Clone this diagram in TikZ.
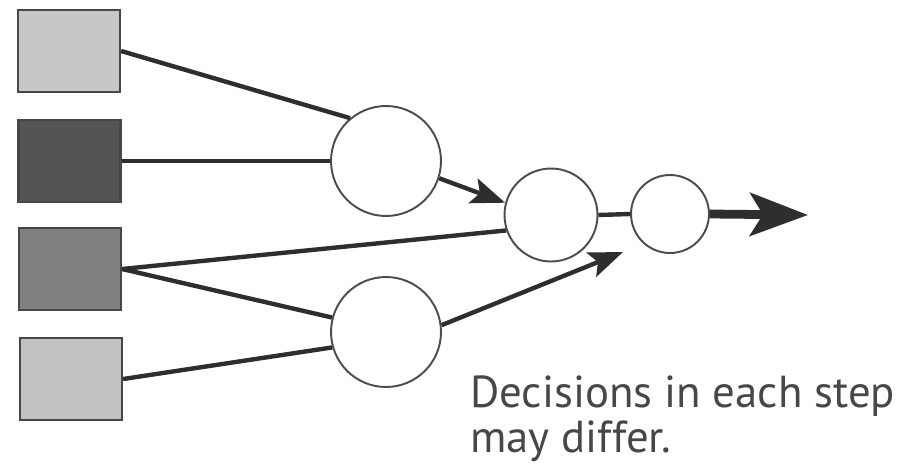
\documentclass[tikz,border=0pt]{standalone}
\usepackage{fontspec}
\setmainfont{PT Sans}
\usetikzlibrary{arrows.meta}

\tikzset{
  input/.style={draw=black!72, line width=1.3pt, minimum width=2.04cm, minimum height=1.64cm, inner sep=0pt},
  stage/.style={circle, draw=black!70, line width=1.1pt, fill=white, inner sep=0pt},
  link/.style={draw=black!82, line width=2.5pt},
  flow/.style={link, -{Stealth[length=0.68cm, width=0.52cm, inset=0.14cm]}},
  outflow/.style={draw=black!82, line width=5pt, -{Stealth[length=1.16cm, width=0.86cm, inset=0.26cm]}},
}

\begin{document}
\begin{tikzpicture}[x=0.02cm, y=-0.02cm]
    \useasboundingbox (0,0) rectangle (918,470);

    % Draw the inputs
    \node[input, fill=black!22] (in1) at (69,51) {};
    \node[input, fill=black!67] (in2) at (69.5,161) {};
    \node[input, fill=black!50] (in3) at (70,269) {};
    \node[input, fill=black!24] (in4) at (71,379) {};

    % Draw the steps
    \node[stage, minimum size=2.2cm] (upper) at (386,161) {};
    \node[stage, minimum size=2.2cm] (lower) at (386,332) {};
    \node[stage, minimum size=1.86cm] (middle) at (551,215) {};
    \node[stage, minimum size=1.56cm] (final) at (670,214) {};
    \coordinate (loose) at (623,252);
    \coordinate (result) at (808,215);

    % Connect the inputs
    \draw[link] (in1.east) -- (upper.130);
    \draw[link] (in2.east) -- (upper.west);
    \draw[link] (in3.east) -- (middle.199);
    \draw[link] (in3.east) -- (lower.165);
    \draw[link] (in4.east) -- (lower.196);

    % Connect the steps
    \draw[flow] (upper.342) -- (middle.165);
    \draw[flow] (lower.7) -- (loose);
    \draw[link] (middle.east) -- (final.west);
    \draw[outflow] (final.east) -- (result);

    % Caption
    \node[anchor=north west, inner sep=0pt, align=left, text=black!72,
          font=\fontsize{25.5}{26}\selectfont] (note) at (470,375)
          {Decisions in each step\\may differ.};
\end{tikzpicture}
\end{document}
